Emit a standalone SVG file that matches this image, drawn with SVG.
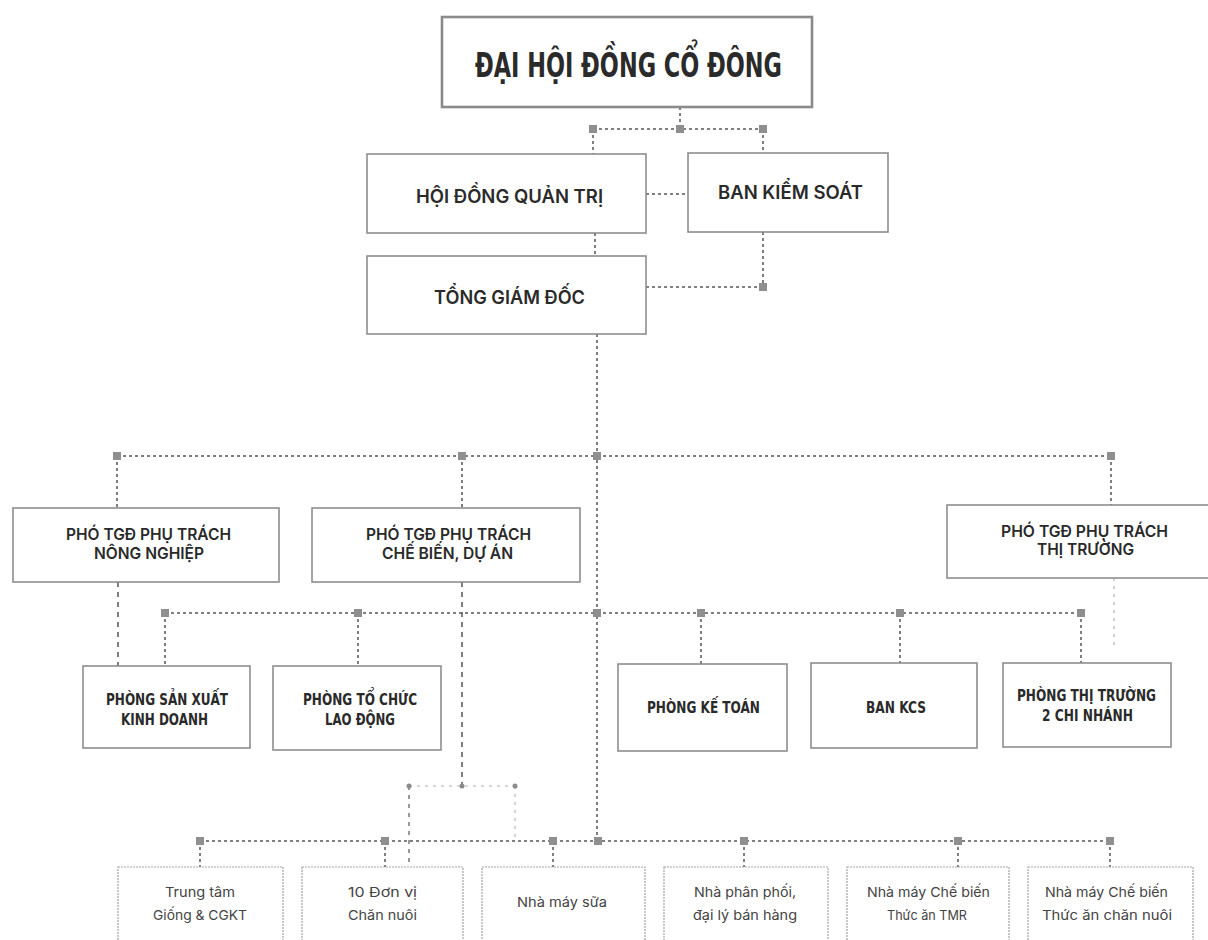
<svg xmlns="http://www.w3.org/2000/svg" width="1208" height="940" viewBox="0 0 1208 940">
<style>
.bg{fill:#fff}
.box{fill:#fff;stroke:#8e8e8e;stroke-width:1.6}
.boxt{fill:#fff;stroke:#8a8a8a;stroke-width:2.6}
.box3{fill:#fff;stroke:#a5a5a5;stroke-width:1.2;stroke-dasharray:2 1}
.title{font-family:"DejaVu Sans Condensed","DejaVu Sans",sans-serif;font-weight:bold;font-size:33px;fill:#2a2a2a}
.t1{font-family:Inter,"Noto Sans",sans-serif;font-weight:600;font-size:18.5px;fill:#2a2a2a}
.t2{font-family:Inter,"Noto Sans",sans-serif;font-weight:600;font-size:16px;fill:#2a2a2a}
.t3{font-family:"DejaVu Sans Condensed","DejaVu Sans",sans-serif;font-weight:bold;font-size:15.5px;fill:#2a2a2a}
.t4{font-family:Inter,"Noto Sans",sans-serif;font-size:13.5px;fill:#444}
text{text-anchor:middle}
.ln{fill:none;stroke:#555;stroke-width:1.5;stroke-dasharray:3 3}
.lf{fill:none;stroke:#b5b5b5;stroke-width:1.2;stroke-dasharray:3 5}
.sq{fill:#8f8f8f}
.dot{fill:#8a8a8a}
</style>
<rect class="bg" x="0" y="0" width="1208" height="940"/>

<g id="connectors">
  <path class="ln" d="M680 107V129M593 129H763M593 129V154M763 129V153M646 194H688M595 233V256M763 232V287M646 287H763"/>
  <path class="ln" d="M597 334V841M117 456H1111M117 456V508M462 456V508M1111 456V505"/>
  <path class="ln" d="M118 582V666" style="stroke-dasharray:5 5"/>
  <path class="ln" d="M462 582V786" style="stroke-dasharray:5 5"/>
  <path class="ln" d="M165 613H1081M165 613V666M358 613V666M701 613V664M900 613V663M1081 613V663"/>
  <path class="lf" d="M1114 578V650"/>
  <path class="lf" d="M409 786H515M515 786V842"/>
  <path class="ln" d="M409 786V867" style="stroke:#777;stroke-dasharray:4 5"/>
  <path class="ln" d="M200 841H1110M200 841V867M385 841V867M553 841V867M744 841V867M958 841V867M1110 841V867"/>
  <g class="sq">
    <rect x="589" y="125" width="8" height="8"/>
    <rect x="676" y="125" width="8" height="8"/>
    <rect x="759" y="125" width="8" height="8"/>
    <rect x="759" y="283" width="8" height="8"/>
    <rect x="113" y="452" width="8" height="8"/>
    <rect x="458" y="452" width="8" height="8"/>
    <rect x="593" y="452" width="8" height="8"/>
    <rect x="1107" y="452" width="8" height="8"/>
    <rect x="161" y="609" width="8" height="8"/>
    <rect x="354" y="609" width="8" height="8"/>
    <rect x="593" y="609" width="8" height="8"/>
    <rect x="697" y="609" width="8" height="8"/>
    <rect x="896" y="609" width="8" height="8"/>
    <rect x="1077" y="609" width="8" height="8"/>
    <rect x="196" y="837" width="8" height="8"/>
    <rect x="381" y="837" width="8" height="8"/>
    <rect x="549" y="837" width="8" height="8"/>
    <rect x="594" y="837" width="8" height="8"/>
    <rect x="740" y="837" width="8" height="8"/>
    <rect x="954" y="837" width="8" height="8"/>
    <rect x="1106" y="837" width="8" height="8"/>
  </g>
  <circle class="dot" cx="409" cy="786" r="2.5"/>
  <circle class="dot" cx="462" cy="786" r="2.5"/>
  <circle class="dot" cx="515" cy="786" r="2.5"/>
</g>

<g id="n_dhdcd">
  <rect class="boxt" x="442" y="17" width="370" height="90"/>
  <text class="title" x="628.5" y="77" textLength="307" lengthAdjust="spacingAndGlyphs">ĐẠI HỘI ĐỒNG CỔ ĐÔNG</text>
</g>
<g id="n_hdqt">
  <rect class="box" x="367" y="154" width="279" height="79"/>
  <text class="t1" x="509.5" y="203" textLength="187" lengthAdjust="spacingAndGlyphs">HỘI ĐỒNG QUẢN TRỊ</text>
</g>
<g id="n_bks">
  <rect class="box" x="688" y="153" width="200" height="79"/>
  <text class="t1" x="790.5" y="199" textLength="145" lengthAdjust="spacingAndGlyphs">BAN KIỂM SOÁT</text>
</g>
<g id="n_tgd">
  <rect class="box" x="367" y="256" width="279" height="78"/>
  <text class="t1" x="509.5" y="304" textLength="151" lengthAdjust="spacingAndGlyphs">TỔNG GIÁM ĐỐC</text>
</g>

<g id="n_pho_nn">
  <rect class="box" x="13" y="508" width="266" height="74"/>
  <text class="t2" x="148.5" y="540" textLength="165" lengthAdjust="spacingAndGlyphs">PHÓ TGĐ PHỤ TRÁCH</text>
  <text class="t2" x="149" y="559" textLength="110" lengthAdjust="spacingAndGlyphs">NÔNG NGHIỆP</text>
</g>
<g id="n_pho_cb">
  <rect class="box" x="312" y="508" width="268" height="74"/>
  <text class="t2" x="448.5" y="540" textLength="165" lengthAdjust="spacingAndGlyphs">PHÓ TGĐ PHỤ TRÁCH</text>
  <text class="t2" x="447.5" y="559" textLength="131" lengthAdjust="spacingAndGlyphs">CHẾ BIẾN, DỰ ÁN</text>
</g>
<g id="n_pho_tt">
  <rect class="box" x="947" y="505" width="272" height="73"/>
  <text class="t2" x="1084.5" y="537" textLength="167" lengthAdjust="spacingAndGlyphs">PHÓ TGĐ PHỤ TRÁCH</text>
  <text class="t2" x="1085.5" y="555" textLength="97" lengthAdjust="spacingAndGlyphs">THỊ TRƯỜNG</text>
</g>

<g id="n_psx">
  <rect class="box" x="83" y="666" width="167" height="82"/>
  <text class="t3" x="167" y="705" textLength="122" lengthAdjust="spacingAndGlyphs">PHÒNG SẢN XUẤT</text>
  <text class="t3" x="164.5" y="725" textLength="87" lengthAdjust="spacingAndGlyphs">KINH DOANH</text>
</g>
<g id="n_ptc">
  <rect class="box" x="273" y="666" width="168" height="84"/>
  <text class="t3" x="360" y="705" textLength="114" lengthAdjust="spacingAndGlyphs">PHÒNG TỔ CHỨC</text>
  <text class="t3" x="360" y="725" textLength="70" lengthAdjust="spacingAndGlyphs">LAO ĐỘNG</text>
</g>
<g id="n_pkt">
  <rect class="box" x="618" y="664" width="169" height="87"/>
  <text class="t3" x="703.5" y="713" textLength="113" lengthAdjust="spacingAndGlyphs">PHÒNG KẾ TOÁN</text>
</g>
<g id="n_kcs">
  <rect class="box" x="811" y="663" width="166" height="85"/>
  <text class="t3" x="896" y="713" textLength="60" lengthAdjust="spacingAndGlyphs">BAN KCS</text>
</g>
<g id="n_ptt">
  <rect class="box" x="1003" y="663" width="168" height="84"/>
  <text class="t3" x="1086.5" y="701" textLength="139" lengthAdjust="spacingAndGlyphs">PHÒNG THỊ TRƯỜNG</text>
  <text class="t3" x="1087.5" y="721" textLength="91" lengthAdjust="spacingAndGlyphs">2 CHI NHÁNH</text>
</g>

<g id="n_trungtam">
  <rect class="box3" x="118" y="867" width="165" height="80"/>
  <text class="t4" x="200" y="897" textLength="70" lengthAdjust="spacingAndGlyphs">Trung tâm</text>
  <text class="t4" x="200" y="920" textLength="94" lengthAdjust="spacingAndGlyphs">Giống &amp; CGKT</text>
</g>
<g id="n_donvi">
  <rect class="box3" x="302" y="867" width="161" height="80"/>
  <text class="t4" x="382.5" y="897" textLength="69" lengthAdjust="spacingAndGlyphs">10 Đơn vị</text>
  <text class="t4" x="382.5" y="920" textLength="69" lengthAdjust="spacingAndGlyphs">Chăn nuôi</text>
</g>
<g id="n_sua">
  <rect class="box3" x="482" y="867" width="163" height="80"/>
  <text class="t4" x="562" y="907" textLength="90" lengthAdjust="spacingAndGlyphs">Nhà máy sữa</text>
</g>
<g id="n_phanphoi">
  <rect class="box3" x="664" y="867" width="164" height="80"/>
  <text class="t4" x="745" y="897" textLength="102" lengthAdjust="spacingAndGlyphs">Nhà phân phối,</text>
  <text class="t4" x="745" y="920" textLength="104" lengthAdjust="spacingAndGlyphs">đại lý bán hàng</text>
</g>
<g id="n_tmr">
  <rect class="box3" x="847" y="867" width="162" height="80"/>
  <text class="t4" x="928.5" y="897" textLength="123" lengthAdjust="spacingAndGlyphs">Nhà máy Chế biến</text>
  <text class="t4" x="927" y="920" textLength="80" lengthAdjust="spacingAndGlyphs">Thức ăn TMR</text>
</g>
<g id="n_chanuoi">
  <rect class="box3" x="1028" y="867" width="165" height="80"/>
  <text class="t4" x="1106.5" y="897" textLength="123" lengthAdjust="spacingAndGlyphs">Nhà máy Chế biến</text>
  <text class="t4" x="1107" y="920" textLength="130" lengthAdjust="spacingAndGlyphs">Thức ăn chăn nuôi</text>
</g>
</svg>
